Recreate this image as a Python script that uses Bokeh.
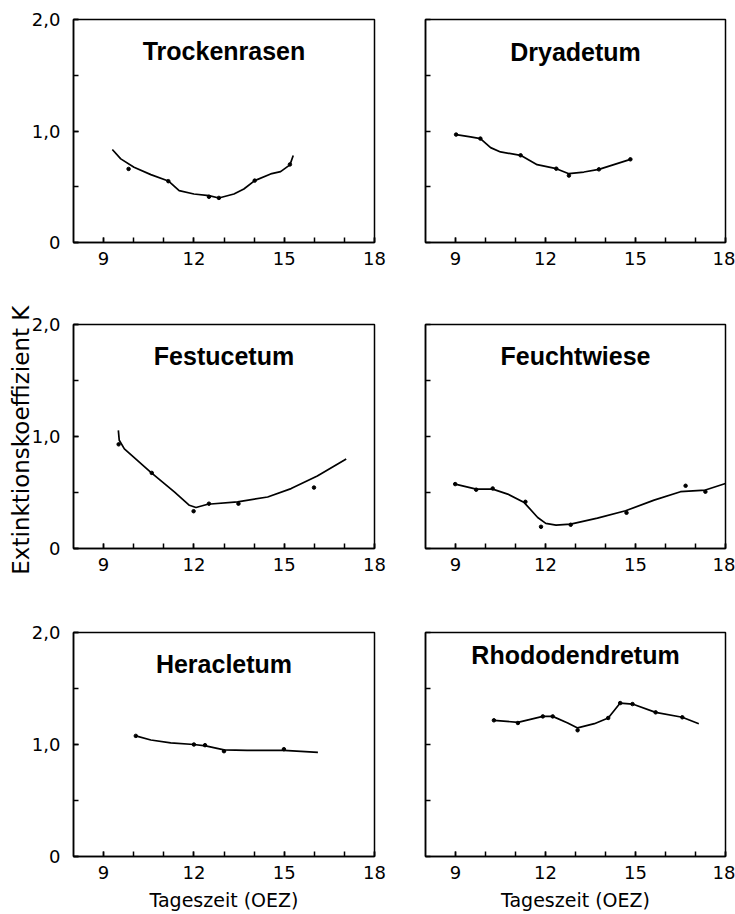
from bokeh.plotting import figure
from bokeh.layouts import row, column
from bokeh.models import Range1d, FixedTicker, Label
from bokeh.embed import file_html
from bokeh.resources import INLINE

# ---------------- data ----------------
names = ["Trockenrasen", "Dryadetum", "Festucetum", "Feuchtwiese", "Heracletum", "Rhododendretum"]
title_y = [1.72, 1.71, 1.72, 1.72, 1.72, 1.80]

x_ticks = [9, 12, 15, 18]
x_minor = [9, 10, 11, 12, 13, 14, 15, 16, 17, 18]
y_ticks = [0, 1, 2]
y_minor = [0, 0.5, 1, 1.5, 2]
y_tick_labels = {0: "0", 1: "1,0", 2: "2,0"}

# Trockenrasen
tro_line_x = [9.29, 9.57, 10.01, 10.57, 11.15, 11.51, 12.00, 12.50, 12.83, 13.33, 13.66, 14.02, 14.55, 14.88, 15.19, 15.30]
tro_line_y = [0.834, 0.750, 0.675, 0.609, 0.552, 0.465, 0.435, 0.420, 0.399, 0.435, 0.480, 0.555, 0.615, 0.636, 0.696, 0.780]
tro_dot_x = [9.83, 11.15, 12.50, 12.83, 14.02, 15.19]
tro_dot_y = [0.66, 0.55, 0.41, 0.40, 0.555, 0.70]

# Dryadetum
dry_line_x = [9.02, 9.50, 9.83, 10.17, 10.50, 11.17, 11.72, 12.36, 12.78, 13.28, 13.78, 14.83]
dry_line_y = [0.968, 0.947, 0.932, 0.851, 0.812, 0.782, 0.698, 0.662, 0.617, 0.632, 0.656, 0.746]
dry_dot_x = [9.02, 9.83, 11.17, 12.36, 12.78, 13.78, 14.83]
dry_dot_y = [0.968, 0.932, 0.782, 0.662, 0.600, 0.656, 0.746]

# Festucetum
fes_line_x = [9.49, 9.52, 9.69, 10.57, 11.35, 11.85, 12.07, 12.46, 13.45, 14.45, 15.23, 16.10, 17.06]
fes_line_y = [1.055, 0.966, 0.890, 0.680, 0.505, 0.386, 0.366, 0.395, 0.416, 0.460, 0.535, 0.648, 0.800]
fes_dot_x = [9.50, 10.60, 11.99, 12.50, 13.48, 15.99]
fes_dot_y = [0.93, 0.675, 0.333, 0.40, 0.40, 0.544]

# Feuchtwiese
feu_line_x = [8.99, 9.69, 10.24, 10.74, 11.29, 11.74, 12.01, 12.35, 12.84, 13.73, 14.67, 15.62, 16.50, 17.33, 18.00]
feu_line_y = [0.575, 0.530, 0.530, 0.486, 0.410, 0.277, 0.224, 0.209, 0.218, 0.271, 0.337, 0.432, 0.507, 0.522, 0.580]
feu_dot_x = [8.99, 9.69, 10.24, 11.33, 11.85, 12.84, 14.70, 16.67, 17.33]
feu_dot_y = [0.575, 0.525, 0.536, 0.417, 0.194, 0.212, 0.319, 0.560, 0.507]

# Heracletum
her_line_x = [10.07, 10.57, 11.23, 12.00, 12.39, 13.00, 13.77, 14.99, 16.12]
her_line_y = [1.077, 1.040, 1.015, 1.000, 0.988, 0.952, 0.948, 0.948, 0.929]
her_dot_x = [10.07, 12.00, 12.37, 13.00, 14.99]
her_dot_y = [1.077, 1.000, 0.994, 0.940, 0.958]

# Rhododendretum
rho_line_x = [10.28, 11.08, 11.91, 12.24, 12.74, 13.07, 13.63, 14.09, 14.49, 14.90, 15.67, 16.56, 17.11]
rho_line_y = [1.216, 1.198, 1.251, 1.251, 1.192, 1.148, 1.186, 1.237, 1.370, 1.361, 1.287, 1.243, 1.186]
rho_dot_x = [10.28, 11.08, 11.91, 12.24, 13.07, 14.09, 14.49, 14.90, 15.67, 16.56]
rho_dot_y = [1.216, 1.192, 1.251, 1.251, 1.127, 1.237, 1.370, 1.361, 1.287, 1.243]

series = [
    (tro_line_x, tro_line_y, tro_dot_x, tro_dot_y),
    (dry_line_x, dry_line_y, dry_dot_x, dry_dot_y),
    (fes_line_x, fes_line_y, fes_dot_x, fes_dot_y),
    (feu_line_x, feu_line_y, feu_dot_x, feu_dot_y),
    (her_line_x, her_line_y, her_dot_x, her_dot_y),
    (rho_line_x, rho_line_y, rho_dot_x, rho_dot_y),
]

TICK_FONT = "DejaVu Sans"
TITLE_FONT = "Liberation Sans"

# (height, border_top, border_bottom) per row; (width, border_left, border_right) per column
row_geom = [(300, 19, 58), (300, 24, 52), (314, 32, 58)]
col_geom = [(399, 73, 25), (336, 26, 10)]


def make_panel(i):
    r, c = divmod(i, 2)
    h, bt, bb = row_geom[r]
    w, bl, br = col_geom[c]
    p = figure(width=w, height=h, output_backend="svg", toolbar_location=None,
               x_range=Range1d(8, 18), y_range=Range1d(0, 2),
               min_border_left=bl, min_border_right=br,
               min_border_top=bt, min_border_bottom=bb,
               background_fill_color="white", border_fill_color="white")
    p.grid.visible = False
    p.outline_line_color = "black"
    p.outline_line_width = 1.5

    lx, ly, dx, dy = series[i]
    p.line(lx, ly, line_color="black", line_width=1.7)
    p.scatter(dx, dy, size=3.5, color="black")

    p.add_layout(Label(x=13, y=title_y[i], text=names[i], text_align="center",
                       text_baseline="middle", text_font=TITLE_FONT,
                       text_font_style="bold", text_font_size="25px",
                       text_color="black"))

    xa = p.xaxis[0]
    xa.ticker = FixedTicker(ticks=x_ticks, minor_ticks=x_minor)
    xa.major_tick_in = 5
    xa.major_tick_out = 0
    xa.minor_tick_in = 5
    xa.minor_tick_out = 0
    xa.axis_line_width = 1.5
    xa.major_tick_line_width = 1.5
    xa.minor_tick_line_width = 1.5
    xa.major_label_text_font = TICK_FONT
    xa.major_label_text_font_size = "18px"
    xa.major_label_text_color = "black"
    xa.major_label_standoff = 9

    ya = p.yaxis[0]
    ya.major_tick_in = 5
    ya.major_tick_out = 0
    ya.minor_tick_in = 5
    ya.minor_tick_out = 0
    ya.axis_line_width = 1.5
    ya.major_tick_line_width = 1.5
    ya.minor_tick_line_width = 1.5
    if c == 0:
        ya.ticker = FixedTicker(ticks=y_ticks, minor_ticks=y_minor)
        ya.major_label_overrides = y_tick_labels
        ya.major_label_text_font = TICK_FONT
        ya.major_label_text_font_size = "18px"
        ya.major_label_text_color = "black"
        ya.major_label_standoff = 13
    else:
        # right column: tick marks only, no tick labels
        ya.ticker = FixedTicker(ticks=[], minor_ticks=y_minor)

    if i == 2:
        ya.axis_label = "Extinktionskoeffizient  K"
        ya.axis_label_text_font = TICK_FONT
        ya.axis_label_text_font_size = "23px"
        ya.axis_label_text_font_style = "normal"
        ya.axis_label_text_color = "black"
        ya.axis_label_standoff = -5
    if r == 2:
        xa.axis_label = "Tageszeit (OEZ)"
        xa.axis_label_text_font = TICK_FONT
        xa.axis_label_text_font_size = "19px"
        xa.axis_label_text_font_style = "normal"
        xa.axis_label_text_color = "black"
        xa.axis_label_standoff = 7
    return p


panels = [make_panel(i) for i in range(6)]
layout = column(row(panels[0], panels[1]), row(panels[2], panels[3]), row(panels[4], panels[5]))

open("out.html", "w").write(file_html(layout, INLINE))
